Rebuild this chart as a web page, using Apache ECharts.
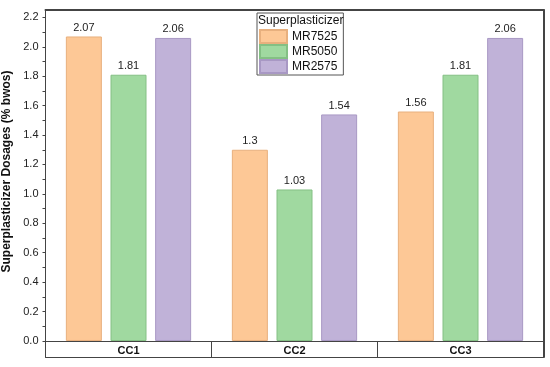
<!DOCTYPE html>
<html>
<head>
<meta charset="utf-8">
<script src="https://cdn.jsdelivr.net/npm/echarts@6/dist/echarts.min.js"></script>
<style>html,body{margin:0;padding:0;background:#fff}#c{width:550px;height:367px}</style>
</head>
<body>
<div id="c"></div>
<script>
const categories = ['CC1', 'CC2', 'CC3'];
const mr7525 = [2.07, 1.3, 1.56];
const mr5050 = [1.81, 1.03, 1.81];
const mr2575 = [2.06, 1.54, 2.06];
const seriesNames = ['MR7525', 'MR5050', 'MR2575'];
const majorTicks = [0, 0.2, 0.4, 0.6, 0.8, 1.0, 1.2, 1.4, 1.6, 1.8, 2.0, 2.2];
const allTicks = [0, 0.1, 0.2, 0.3, 0.4, 0.5, 0.6, 0.7, 0.8, 0.9, 1.0, 1.1, 1.2, 1.3, 1.4, 1.5, 1.6, 1.7, 1.8, 1.9, 2.0, 2.1, 2.2];
const legendTitle = 'Superplasticizer';
const yTitle = 'Superplasticizer Dosages (% bwos)';
const yMin = -0.1088, yMax = 2.25;

const fills = ['#FDC896', '#A0D9A0', '#C0B2D8'];
const borders = ['#E8B07E', '#84C084', '#A898C4'];
const frame = '#444444';
const font = 'Arial, "Liberation Sans", sans-serif';

const chart = echarts.init(document.getElementById('c'), null, {renderer: 'canvas'});
const dataSets = [mr7525, mr5050, mr2575];
chart.setOption({
  animation: false,
  textStyle: {fontFamily: font},
  grid: {left: 45.5, right: 6.5, top: 10, bottom: 10, containLabel: false, outerBoundsMode: 'none'},
  title: {
    text: legendTitle, left: 258, top: 15,
    padding: 0,
    textStyle: {fontSize: 12, fontWeight: 'normal', color: '#111', fontFamily: font}
  },
  legend: {
    left: 257, top: 13, orient: 'vertical',
    padding: [16, 6, 1, 2],
    itemWidth: 27, itemHeight: 13, itemGap: 0,
    borderColor: '#555', borderWidth: 1,
    icon: 'rect',
    data: seriesNames,
    textStyle: {fontSize: 12, lineHeight: 15, color: '#111', fontFamily: font}
  },
  xAxis: [{
    type: 'category', data: categories, position: 'bottom',
    axisLine: {show: true, onZero: false, lineStyle: {color: frame, width: 1}},
    axisTick: {show: true, length: 16, inside: true, lineStyle: {color: frame}},
    axisLabel: {inside: true, fontSize: 11, fontWeight: 'bold', color: '#111', margin: 1, fontFamily: font},
    splitLine: {show: false}
  }, {
    type: 'category', data: categories, position: 'top',
    axisLine: {show: true, onZero: false, lineStyle: {color: frame, width: 2}},
    axisTick: {show: false}, axisLabel: {show: false}, splitLine: {show: false}
  }],
  yAxis: [{
    type: 'value', min: yMin, max: yMax, position: 'left',
    name: yTitle, nameLocation: 'middle', nameGap: 25,
    nameTextStyle: {fontSize: 12, fontWeight: 'bold', color: '#111', fontFamily: font, padding: [0, 0, 0, 24]},
    axisLine: {show: true, onZero: false, lineStyle: {color: frame, width: 1}},
    axisTick: {show: true, length: 3, customValues: allTicks, lineStyle: {color: frame}},
    axisLabel: {fontSize: 11, color: '#222', margin: 7, customValues: majorTicks,
      formatter: v => v.toFixed(1), fontFamily: font},
    splitLine: {show: false}
  }, {
    type: 'value', min: yMin, max: yMax, position: 'right',
    axisLine: {show: true, onZero: false, lineStyle: {color: frame, width: 2}},
    axisTick: {show: false}, axisLabel: {show: false}, splitLine: {show: false}
  }],
  series: seriesNames.map((n, i) => {
    const s = {
      name: n, type: 'bar', data: dataSets[i],
      xAxisIndex: 0, yAxisIndex: 0,
      barWidth: 36, barGap: '24%',
      itemStyle: {color: fills[i], borderColor: borders[i], borderWidth: 1},
      label: {show: true, position: 'top', distance: 3, fontSize: 11, color: '#222', fontFamily: font}
    };
    if (i === 0) {
      s.markLine = {
        silent: true, symbol: ['none', 'none'], animation: false,
        label: {show: false},
        lineStyle: {color: frame, width: 1, type: 'solid'},
        data: [{yAxis: 0}]
      };
    }
    return s;
  })
});
</script>
</body>
</html>
